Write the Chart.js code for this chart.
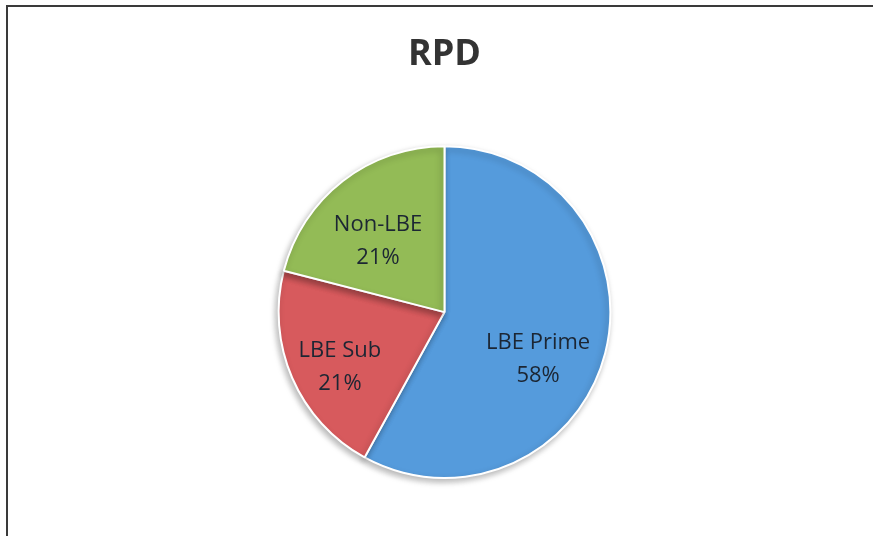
<!DOCTYPE html>
<html>
<head>
<meta charset="utf-8">
<script src="https://cdn.jsdelivr.net/npm/chart.js@4"></script>
<style>
  html, body { margin: 0; padding: 0; background: #fff; }
  #wrap { width: 873px; height: 536px; }
</style>
</head>
<body>
<div id="wrap"><canvas id="rpd"></canvas></div>
<script>
// data
let categories = ['LBE Prime', 'LBE Sub', 'Non-LBE'];
let shares = [58, 21, 21];
let sliceColors = ['#559bdc', '#d75a5d', '#93bb56'];

// where the label sits inside each slice (fraction of radius, angle nudge in degrees)
let labelRadius = [0.63, 0.71, 0.59];
let labelNudge = [12, -4, -5];

let frame = {
  id: 'frame',
  beforeDraw(chart) {
    let ctx = chart.ctx;
    ctx.save();
    ctx.strokeStyle = '#3a3a3a';
    ctx.lineWidth = 2;
    ctx.beginPath();
    ctx.moveTo(873, 6);
    ctx.lineTo(7, 6);
    ctx.lineTo(7, 536);
    ctx.stroke();
    ctx.restore();
  }
};

let shadow = {
  id: 'shadow',
  beforeDatasetDraw(chart) {
    let ctx = chart.ctx;
    ctx.save();
    ctx.shadowColor = 'rgba(0,0,0,0.28)';
    ctx.shadowBlur = 6;
    ctx.shadowOffsetX = -2;
    ctx.shadowOffsetY = 3;
  },
  afterDatasetDraw(chart) {
    chart.ctx.restore();
  }
};

let sliceLabels = {
  id: 'sliceLabels',
  afterDatasetsDraw(chart) {
    let ctx = chart.ctx;
    let meta = chart.getDatasetMeta(0);
    let total = shares.reduce((a, b) => a + b, 0);
    ctx.save();
    ctx.font = '22px "Open Sans"';
    ctx.fillStyle = '#1c2633';
    ctx.textAlign = 'center';
    ctx.textBaseline = 'middle';
    meta.data.forEach((arc, i) => {
      let p = arc.getProps(['x', 'y', 'startAngle', 'endAngle', 'outerRadius'], true);
      let a = (p.startAngle + p.endAngle) / 2 + labelNudge[i] * Math.PI / 180;
      let r = p.outerRadius * labelRadius[i];
      let cx = p.x + Math.cos(a) * r;
      let cy = p.y + Math.sin(a) * r;
      ctx.fillText(categories[i], cx, cy - 16);
      ctx.fillText(Math.round(shares[i] / total * 100) + '%', cx, cy + 17);
    });
    ctx.restore();
  }
};

new Chart(document.getElementById('rpd'), {
  type: 'pie',
  data: {
    labels: categories,
    datasets: [{
      data: shares,
      backgroundColor: sliceColors,
      borderColor: '#ffffff',
      borderWidth: 2
    }]
  },
  options: {
    responsive: true,
    maintainAspectRatio: false,
    animation: false,
    layout: { padding: { top: 0, bottom: 57, left: 16, right: 0 } },
    plugins: {
      legend: { display: false },
      tooltip: { enabled: false },
      title: {
        display: true,
        text: 'RPD',
        color: '#333333',
        font: { family: 'Open Sans', size: 36, weight: 'bold' },
        padding: { top: 33, bottom: 69 }
      }
    }
  },
  plugins: [frame, shadow, sliceLabels]
});
</script>
</body>
</html>
